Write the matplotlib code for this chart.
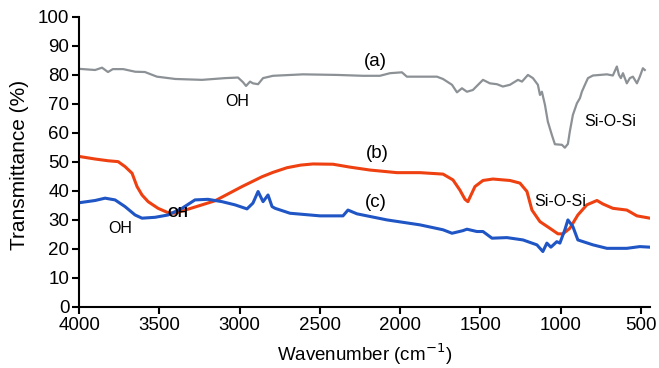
import matplotlib
matplotlib.use("Agg")
import matplotlib.pyplot as plt

plt.rcParams['font.family'] = ['Liberation Sans', 'DejaVu Sans']

# (a) gray spectrum
wn_a = [4000, 3900, 3857, 3820, 3790, 3725, 3650, 3590, 3515, 3400, 3234, 3090,
        3010, 2979, 2960, 2935, 2917, 2885, 2854, 2792, 2605, 2394, 2232, 2126,
        2063, 1989, 1958, 1771, 1733, 1677, 1646, 1615, 1584, 1547, 1484, 1441,
        1397, 1360, 1316, 1266, 1241, 1204, 1173, 1142, 1129, 1117, 1098, 1080,
        1055, 1036, 992, 974, 955, 943, 924, 899, 880, 868, 849, 830, 799, 712,
        675, 650, 637, 625, 612, 588, 569, 550, 525, 507, 488, 476]
t_a = [82.1, 81.7, 82.5, 81.0, 82.0, 82.0, 81.1, 81.0, 79.4, 78.6, 78.3, 78.9,
       79.1, 77.5, 76.2, 77.7, 77.1, 76.8, 78.9, 79.7, 80.2, 80.0, 79.7, 79.7,
       80.6, 80.9, 79.4, 79.4, 78.6, 76.6, 74.0, 75.4, 74.2, 74.8, 78.3, 77.1,
       76.8, 76.0, 76.6, 78.3, 77.7, 80.0, 78.9, 76.6, 73.1, 74.2, 69.7, 63.9,
       59.3, 56.1, 55.9, 54.9, 56.2, 60.5, 66.2, 70.2, 72.0, 74.2, 76.6, 78.9,
       79.8, 80.2, 79.8, 82.9, 80.0, 78.9, 80.6, 77.1, 78.9, 79.4, 77.1, 79.4,
       82.3, 81.7]

# (b) red spectrum
wn_b = [3990, 3900, 3819, 3757, 3714, 3670, 3639, 3608, 3570, 3508, 3446, 3402,
        3321, 3153, 2985, 2860, 2792, 2705, 2620, 2543, 2418, 2312, 2188, 2020,
        1877, 1733, 1671, 1628, 1596, 1578, 1534, 1484, 1422, 1316, 1254, 1210,
        1179, 1129, 1067, 1017, 986, 943, 893, 837, 774, 737, 675, 588, 525, 444]
t_b = [51.8, 51.0, 50.4, 50.1, 48.4, 46.1, 41.5, 38.6, 36.3, 34.0, 32.5, 32.3,
       33.7, 36.6, 41.5, 44.9, 46.4, 48.0, 48.9, 49.3, 49.2, 48.2, 47.2, 46.3,
       46.3, 45.8, 43.8, 40.3, 37.1, 36.3, 41.5, 43.6, 44.1, 43.6, 42.7, 39.8,
       33.4, 29.4, 27.1, 25.2, 25.2, 27.1, 31.7, 35.2, 36.7, 35.5, 34.0, 33.4,
       31.4, 30.6]

# (c) blue spectrum
wn_c = [3990, 3900, 3838, 3776, 3714, 3651, 3608, 3527, 3446, 3359, 3278, 3197,
        3110, 3029, 2954, 2917, 2885, 2854, 2823, 2798, 2779, 2686, 2499, 2356,
        2325, 2269, 2082, 1877, 1733, 1677, 1609, 1584, 1522, 1484, 1428, 1335,
        1235, 1148, 1111, 1086, 1061, 1024, 1005, 974, 955, 924, 893, 799, 712,
        588, 507, 444]
t_c = [36.0, 36.7, 37.5, 36.9, 34.6, 31.7, 30.6, 30.9, 31.7, 34.0, 36.9, 37.1,
       36.3, 35.2, 33.8, 35.8, 39.8, 36.3, 38.6, 34.6, 34.0, 32.3, 31.4, 31.4,
       33.4, 32.1, 30.0, 28.3, 26.6, 25.4, 26.3, 26.8, 26.0, 26.0, 23.7, 23.9,
       23.1, 21.4, 19.1, 22.0, 20.6, 22.5, 22.0, 26.6, 30.0, 27.7, 23.1, 21.4,
       20.2, 20.2, 20.8, 20.6]

x_ticks = [4000, 3500, 3000, 2500, 2000, 1500, 1000, 500]
y_ticks = list(range(0, 101, 10))

fig = plt.figure(figsize=(6.59, 3.68), dpi=100)
ax = fig.add_axes([0.12, 0.166, 0.866, 0.788])

ax.plot(wn_a, t_a, color='#8c9196', lw=1.6)
ax.plot(wn_b, t_b, color='#ee4010', lw=2.2)
ax.plot(wn_c, t_c, color='#1f55c4', lw=2.2)

ax.set_xlim(4000, 445)
ax.set_ylim(0, 100)
ax.set_xticks(x_ticks)
ax.set_yticks(y_ticks)
ax.tick_params(labelsize=13.5, width=1.5, length=5, direction='out', pad=2)
for s in ['top', 'right']:
    ax.spines[s].set_visible(False)
for s in ['left', 'bottom']:
    ax.spines[s].set_linewidth(1.5)

ax.set_ylabel('Transmittance (%)', fontsize=15, labelpad=3)
ax.yaxis.set_label_coords(-0.087, 0.49)
ax.set_xlabel('Wavenumber (cm$^{-1}$)', fontsize=13.5, labelpad=6)

ax.text(3016, 71, 'OH', fontsize=11.5, ha='center', va='center')
ax.text(2157, 84.5, '(a)', fontsize=13.5, ha='center', va='center')
ax.text(693, 63.8, 'Si-O-Si', fontsize=11.5, ha='center', va='center')
ax.text(2145, 52.8, '(b)', fontsize=13.5, ha='center', va='center')
ax.text(2150, 35.9, '(c)', fontsize=13.5, ha='center', va='center')
ax.text(1005, 36.5, 'Si-O-Si', fontsize=11.5, ha='center', va='center')
ax.text(3745, 27.2, 'OH', fontsize=11.5, ha='center', va='center')
ax.text(3384, 32.4, 'OH', fontsize=10, fontweight='bold', ha='center',
        va='center', zorder=5)

fig.savefig('out.png', dpi=100)
